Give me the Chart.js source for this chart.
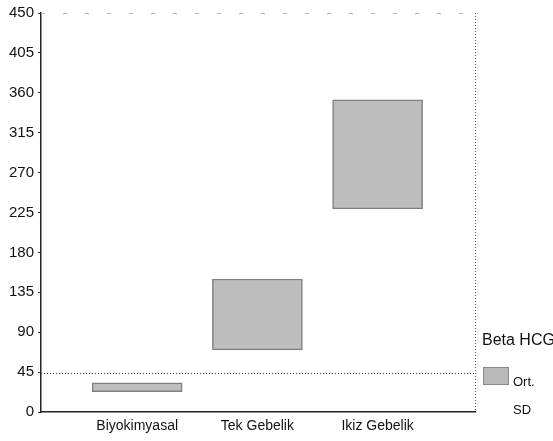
<!DOCTYPE html>
<html><head><meta charset="utf-8">
<script src="https://cdn.jsdelivr.net/npm/chart.js@4/dist/chart.umd.min.js"></script>
<style>html,body{margin:0;padding:0;background:#fff}#wrap{position:relative;width:553px;height:441px}</style>
</head><body><div id="wrap"><canvas id="c" width="553" height="441"></canvas></div>
<script>
const categories = ['Biyokimyasal', 'Tek Gebelik', 'Ikiz Gebelik'];
const lowValues = [23, 70, 229];
const highValues = [33, 150, 352];
const yTicks = [0, 45, 90, 135, 180, 225, 270, 315, 360, 405, 450];
const thresholdValue = [44];
const legendTitle = 'Beta HCG';
const legendLabels = ['Ort.', 'SD'];

const barData = categories.map((c, i) => ({ x: i, y: [lowValues[i], highValues[i]] }));
const FONT = '"Liberation Sans", Arial, sans-serif';

const extras = {
  id: 'extras',
  afterDatasetsDraw(chart) {
    const { ctx, chartArea: a, scales } = chart;
    ctx.save();
    const rx = Math.round(a.right) + 0.5;
    // dotted threshold line
    ctx.strokeStyle = '#333';
    ctx.lineWidth = 1;
    ctx.setLineDash([1, 2]);
    thresholdValue.forEach(v => {
      const y = Math.round(scales.y.getPixelForValue(v)) + 0.5;
      ctx.beginPath(); ctx.moveTo(a.left, y); ctx.lineTo(rx, y); ctx.stroke();
    });
    // right dotted border
    ctx.strokeStyle = '#555';
    ctx.beginPath(); ctx.moveTo(rx, a.top); ctx.lineTo(rx, a.bottom); ctx.stroke();
    // top faint dashed border
    ctx.strokeStyle = '#b5b5b5';
    ctx.setLineDash([4, 18]);
    ctx.beginPath(); ctx.moveTo(a.left, Math.round(a.top) + 0.5); ctx.lineTo(a.right, Math.round(a.top) + 0.5); ctx.stroke();
    ctx.setLineDash([]);
    // legend
    const lx = a.right + 7;
    ctx.fillStyle = '#111';
    ctx.textBaseline = 'middle';
    ctx.textAlign = 'left';
    ctx.font = '16px ' + FONT;
    ctx.fillText(legendTitle, lx, 341);
    ctx.fillStyle = '#b9b9b9';
    ctx.fillRect(lx + 1, 367, 26, 18);
    ctx.strokeStyle = '#8a8a8a';
    ctx.strokeRect(lx + 1.5, 367.5, 25, 17);
    ctx.fillStyle = '#111';
    ctx.font = '13px ' + FONT;
    ctx.fillText(legendLabels[0], lx + 31, 382);
    ctx.fillText(legendLabels[1], lx + 31, 410);
    ctx.restore();
  }
};

new Chart(document.getElementById('c'), {
  type: 'bar',
  data: {
    datasets: [{
      data: barData,
      backgroundColor: '#bdbdbd',
      borderColor: '#808080',
      borderWidth: 1.5,
      borderSkipped: false,
      barThickness: 90
    }]
  },
  options: {
    responsive: false,
    animation: false,
    layout: { padding: { top: 11, right: 78, left: 0, bottom: 0 } },
    plugins: { legend: { display: false }, tooltip: { enabled: false } },
    scales: {
      x: {
        type: 'linear',
        offset: false,
        min: -0.8,
        max: 2.81,
        afterBuildTicks(s) { s.ticks = categories.map((c, i) => ({ value: i })); },
        afterFit(s) { s.height = 29; },
        ticks: {
          callback: (v) => categories[v] || '',
          color: '#111',
          font: { family: FONT, size: 14 },
          maxRotation: 0, autoSkip: false, padding: 6
        },
        grid: { display: false, drawTicks: false },
        border: { display: true, color: '#222', width: 1.5 }
      },
      y: {
        min: 0, max: 450,
        afterBuildTicks(s) { s.ticks = yTicks.map(v => ({ value: v })); },
        afterFit(s) { s.width = 41; },
        ticks: {
          color: '#111',
          font: { family: FONT, size: 15 },
          padding: 4
        },
        grid: { drawOnChartArea: false, drawTicks: true, tickLength: 3, color: '#333' },
        border: { display: true, color: '#222', width: 1.5 }
      }
    }
  },
  plugins: [extras]
});
</script></body></html>
